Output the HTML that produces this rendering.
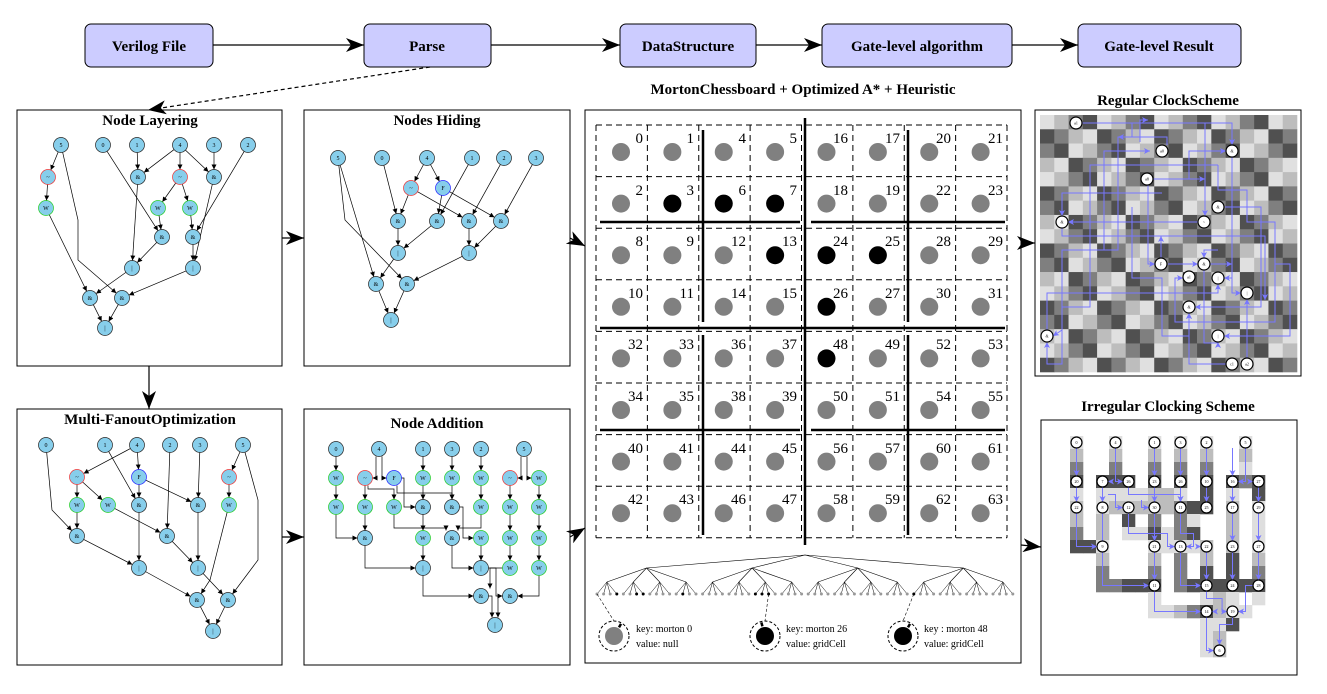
<!DOCTYPE html>
<html><head><meta charset="utf-8"><style>
html,body{margin:0;padding:0;background:#fff}
svg{display:block}
.t{font-family:"Liberation Serif",serif;font-weight:bold;font-size:15px;text-anchor:middle}
.bx{fill:#ccccff;stroke:#000;stroke-width:1}
.n circle{fill:#87ceeb;stroke:#222;stroke-width:.7}
.n.r circle{stroke:#e33}.n.f circle{stroke:#22f}.n.w circle{stroke:#2c2}
.n text{font-family:"Liberation Serif",serif;font-size:6px;text-anchor:middle}
.num{font-family:"Liberation Serif",serif;font-size:15px;text-anchor:end}
.k{font-family:"Liberation Serif",serif;font-size:10px}
.c circle{fill:#fff;stroke:#000;stroke-width:1.2}
.c text{font-family:"Liberation Serif",serif;font-size:4px;text-anchor:middle}
</style></head><body>
<svg id="s" width="1327" height="694" viewBox="0 0 1327 694" xmlns="http://www.w3.org/2000/svg">
<defs>
<marker id="big" markerUnits="userSpaceOnUse" markerWidth="20" markerHeight="14" refX="18" refY="7" orient="auto"><path d="M0,0 L18,7 L0,14 L5,7 z" fill="#000"/></marker>
<marker id="sm" markerUnits="userSpaceOnUse" markerWidth="6" markerHeight="6" refX="5" refY="2.5" orient="auto"><path d="M0,0 L5,2.5 L0,5 z" fill="#000"/></marker>
<marker id="bl" markerUnits="userSpaceOnUse" markerWidth="7" markerHeight="7" refX="6" refY="3" orient="auto"><path d="M0,0 L6,3 L0,6 L1.5,3 z" fill="#7777ff"/></marker>
</defs>
<g id="bg"></g>
<!-- top boxes -->
<rect class="bx" x="85" y="24" width="128" height="43" rx="6"/>
<rect class="bx" x="364" y="24" width="127" height="43" rx="6"/>
<rect class="bx" x="620" y="24" width="136" height="43" rx="6"/>
<rect class="bx" x="822" y="24" width="190" height="43" rx="6"/>
<rect class="bx" x="1078" y="24" width="163" height="43" rx="6"/>
<text class="t" x="149" y="51">Verilog File</text>
<text class="t" x="427" y="51">Parse</text>
<text class="t" x="688" y="51">DataStructure</text>
<text class="t" x="917" y="51">Gate-level algorithm</text>
<text class="t" x="1159" y="51">Gate-level Result</text>
<g stroke="#000" stroke-width="1.2" fill="none">
<line x1="213" y1="45" x2="364" y2="45" marker-end="url(#big)"/>
<line x1="491" y1="45" x2="620" y2="45" marker-end="url(#big)"/>
<line x1="756" y1="45" x2="822" y2="45" marker-end="url(#big)"/>
<line x1="1012" y1="45" x2="1078" y2="45" marker-end="url(#big)"/>
<line x1="430" y1="67" x2="148" y2="110" stroke-dasharray="4,3" marker-end="url(#big)"/>
<line x1="149" y1="366" x2="149" y2="409" marker-end="url(#big)"/>
<line x1="282" y1="238" x2="304" y2="238" marker-end="url(#big)"/>
<line x1="570" y1="238" x2="585" y2="246" marker-end="url(#big)"/>
<line x1="282" y1="537" x2="304" y2="537" marker-end="url(#big)"/>
<line x1="570" y1="537" x2="585" y2="528" marker-end="url(#big)"/>
<line x1="1021" y1="243" x2="1035" y2="243" marker-end="url(#big)"/>
<line x1="1021" y1="545" x2="1041" y2="547" marker-end="url(#big)"/>
</g>
<!-- panels -->
<g fill="none" stroke="#000" stroke-width="1">
<rect x="17" y="110" width="265" height="256"/>
<rect x="304" y="110" width="266" height="256"/>
<rect x="17" y="409" width="265" height="256"/>
<rect x="304" y="409" width="266" height="256"/>
<rect x="585" y="110" width="436" height="553"/>
<rect x="1035" y="110" width="266" height="266"/>
<rect x="1041" y="420" width="256" height="255"/>
</g>
<text class="t" x="150" y="125">Node Layering</text>
<text class="t" x="437" y="125">Nodes Hiding</text>
<text class="t" x="150" y="424">Multi-FanoutOptimization</text>
<text class="t" x="437" y="428">Node Addition</text>
<text class="t" x="803" y="94">MortonChessboard + Optimized A* + Heuristic</text>
<text class="t" x="1168" y="105">Regular ClockScheme</text>
<text class="t" x="1168" y="411">Irregular Clocking Scheme</text>
<g id="edges"></g>
<!-- Node Layering -->
<g class="n" transform="translate(61,145)"><circle r="7.5"/><text y="2">5</text></g>
<g class="n" transform="translate(103,145)"><circle r="7.5"/><text y="2">0</text></g>
<g class="n" transform="translate(137,145)"><circle r="7.5"/><text y="2">1</text></g>
<g class="n" transform="translate(180,145)"><circle r="7.5"/><text y="2">4</text></g>
<g class="n" transform="translate(214,145)"><circle r="7.5"/><text y="2">3</text></g>
<g class="n" transform="translate(248,145)"><circle r="7.5"/><text y="2">2</text></g>
<g class="n r" transform="translate(48,177)"><circle r="7.5"/><text y="2">~</text></g>
<g class="n" transform="translate(138,177)"><circle r="7.5"/><text y="2">&amp;</text></g>
<g class="n r" transform="translate(180,177)"><circle r="7.5"/><text y="2">~</text></g>
<g class="n" transform="translate(214,177)"><circle r="7.5"/><text y="2">&amp;</text></g>
<g class="n w" transform="translate(46,208)"><circle r="7.5"/><text y="2">W</text></g>
<g class="n w" transform="translate(158,208)"><circle r="7.5"/><text y="2">W</text></g>
<g class="n w" transform="translate(190,208)"><circle r="7.5"/><text y="2">W</text></g>
<g class="n" transform="translate(162,237)"><circle r="7.5"/><text y="2">&amp;</text></g>
<g class="n" transform="translate(193,237)"><circle r="7.5"/><text y="2">&amp;</text></g>
<g class="n" transform="translate(132,268)"><circle r="7.5"/><text y="2">|</text></g>
<g class="n" transform="translate(193,268)"><circle r="7.5"/><text y="2">|</text></g>
<g class="n" transform="translate(90,298)"><circle r="7.5"/><text y="2">&amp;</text></g>
<g class="n" transform="translate(122,298)"><circle r="7.5"/><text y="2">&amp;</text></g>
<g class="n" transform="translate(105,328)"><circle r="7.5"/><text y="2">|</text></g>
<!-- Nodes Hiding -->
<g class="n" transform="translate(338,158)"><circle r="7.5"/><text y="2">5</text></g>
<g class="n" transform="translate(382,158)"><circle r="7.5"/><text y="2">0</text></g>
<g class="n" transform="translate(427,158)"><circle r="7.5"/><text y="2">4</text></g>
<g class="n" transform="translate(472,158)"><circle r="7.5"/><text y="2">1</text></g>
<g class="n" transform="translate(504,158)"><circle r="7.5"/><text y="2">2</text></g>
<g class="n" transform="translate(536,158)"><circle r="7.5"/><text y="2">3</text></g>
<g class="n r" transform="translate(411,188)"><circle r="7.5"/><text y="2">~</text></g>
<g class="n f" transform="translate(443,188)"><circle r="7.5"/><text y="2">F</text></g>
<g class="n" transform="translate(398,221)"><circle r="7.5"/><text y="2">&amp;</text></g>
<g class="n" transform="translate(437,221)"><circle r="7.5"/><text y="2">&amp;</text></g>
<g class="n" transform="translate(469,221)"><circle r="7.5"/><text y="2">&amp;</text></g>
<g class="n" transform="translate(501,221)"><circle r="7.5"/><text y="2">&amp;</text></g>
<g class="n" transform="translate(398,253)"><circle r="7.5"/><text y="2">|</text></g>
<g class="n" transform="translate(469,253)"><circle r="7.5"/><text y="2">|</text></g>
<g class="n" transform="translate(376,284)"><circle r="7.5"/><text y="2">&amp;</text></g>
<g class="n" transform="translate(407,284)"><circle r="7.5"/><text y="2">&amp;</text></g>
<g class="n" transform="translate(391,320)"><circle r="7.5"/><text y="2">|</text></g>
<!-- Multi-Fanout -->
<g class="n" transform="translate(46,445)"><circle r="7.5"/><text y="2">0</text></g>
<g class="n" transform="translate(105,445)"><circle r="7.5"/><text y="2">1</text></g>
<g class="n" transform="translate(137,445)"><circle r="7.5"/><text y="2">4</text></g>
<g class="n" transform="translate(170,445)"><circle r="7.5"/><text y="2">2</text></g>
<g class="n" transform="translate(200,445)"><circle r="7.5"/><text y="2">3</text></g>
<g class="n" transform="translate(243,445)"><circle r="7.5"/><text y="2">5</text></g>
<g class="n r" transform="translate(77,477)"><circle r="7.5"/><text y="2">~</text></g>
<g class="n f" transform="translate(139,477)"><circle r="7.5"/><text y="2">F</text></g>
<g class="n r" transform="translate(229,477)"><circle r="7.5"/><text y="2">~</text></g>
<g class="n w" transform="translate(77,505)"><circle r="7.5"/><text y="2">W</text></g>
<g class="n w" transform="translate(108,505)"><circle r="7.5"/><text y="2">W</text></g>
<g class="n" transform="translate(139,505)"><circle r="7.5"/><text y="2">&amp;</text></g>
<g class="n" transform="translate(198,505)"><circle r="7.5"/><text y="2">&amp;</text></g>
<g class="n w" transform="translate(229,505)"><circle r="7.5"/><text y="2">W</text></g>
<g class="n" transform="translate(77,536)"><circle r="7.5"/><text y="2">&amp;</text></g>
<g class="n" transform="translate(167,536)"><circle r="7.5"/><text y="2">&amp;</text></g>
<g class="n" transform="translate(139,568)"><circle r="7.5"/><text y="2">|</text></g>
<g class="n" transform="translate(198,568)"><circle r="7.5"/><text y="2">|</text></g>
<g class="n" transform="translate(197,600)"><circle r="7.5"/><text y="2">&amp;</text></g>
<g class="n" transform="translate(228,600)"><circle r="7.5"/><text y="2">&amp;</text></g>
<g class="n" transform="translate(213,631)"><circle r="7.5"/><text y="2">|</text></g>
<!-- Node Addition -->
<g class="n" transform="translate(336,449)"><circle r="7.5"/><text y="2">0</text></g>
<g class="n" transform="translate(379,449)"><circle r="7.5"/><text y="2">4</text></g>
<g class="n" transform="translate(423,449)"><circle r="7.5"/><text y="2">1</text></g>
<g class="n" transform="translate(452,449)"><circle r="7.5"/><text y="2">3</text></g>
<g class="n" transform="translate(481,449)"><circle r="7.5"/><text y="2">2</text></g>
<g class="n" transform="translate(524,449)"><circle r="7.5"/><text y="2">5</text></g>
<g class="n w" transform="translate(336,478)"><circle r="7.5"/><text y="2">W</text></g>
<g class="n r" transform="translate(365,478)"><circle r="7.5"/><text y="2">~</text></g>
<g class="n f" transform="translate(394,478)"><circle r="7.5"/><text y="2">F</text></g>
<g class="n w" transform="translate(423,478)"><circle r="7.5"/><text y="2">W</text></g>
<g class="n w" transform="translate(452,478)"><circle r="7.5"/><text y="2">W</text></g>
<g class="n w" transform="translate(481,478)"><circle r="7.5"/><text y="2">W</text></g>
<g class="n r" transform="translate(510,478)"><circle r="7.5"/><text y="2">~</text></g>
<g class="n w" transform="translate(539,478)"><circle r="7.5"/><text y="2">W</text></g>
<g class="n w" transform="translate(336,507)"><circle r="7.5"/><text y="2">W</text></g>
<g class="n w" transform="translate(365,507)"><circle r="7.5"/><text y="2">W</text></g>
<g class="n w" transform="translate(394,507)"><circle r="7.5"/><text y="2">W</text></g>
<g class="n" transform="translate(423,507)"><circle r="7.5"/><text y="2">&amp;</text></g>
<g class="n" transform="translate(452,507)"><circle r="7.5"/><text y="2">&amp;</text></g>
<g class="n w" transform="translate(481,507)"><circle r="7.5"/><text y="2">W</text></g>
<g class="n w" transform="translate(510,507)"><circle r="7.5"/><text y="2">W</text></g>
<g class="n w" transform="translate(539,507)"><circle r="7.5"/><text y="2">W</text></g>
<g class="n" transform="translate(365,538)"><circle r="7.5"/><text y="2">&amp;</text></g>
<g class="n w" transform="translate(423,538)"><circle r="7.5"/><text y="2">W</text></g>
<g class="n" transform="translate(452,538)"><circle r="7.5"/><text y="2">&amp;</text></g>
<g class="n w" transform="translate(481,538)"><circle r="7.5"/><text y="2">W</text></g>
<g class="n w" transform="translate(510,538)"><circle r="7.5"/><text y="2">W</text></g>
<g class="n w" transform="translate(539,538)"><circle r="7.5"/><text y="2">W</text></g>
<g class="n" transform="translate(423,568)"><circle r="7.5"/><text y="2">|</text></g>
<g class="n" transform="translate(481,568)"><circle r="7.5"/><text y="2">|</text></g>
<g class="n w" transform="translate(510,568)"><circle r="7.5"/><text y="2">W</text></g>
<g class="n w" transform="translate(539,568)"><circle r="7.5"/><text y="2">W</text></g>
<g class="n" transform="translate(481,596)"><circle r="7.5"/><text y="2">&amp;</text></g>
<g class="n" transform="translate(510,596)"><circle r="7.5"/><text y="2">&amp;</text></g>
<g class="n" transform="translate(495,625)"><circle r="7.5"/><text y="2">|</text></g>
<!-- chessboard numbers -->
<g class="num">
<text x="643" y="143">0</text><text x="694" y="143">1</text><text x="746" y="143">4</text><text x="797" y="143">5</text><text x="848" y="143">16</text><text x="900" y="143">17</text><text x="951" y="143">20</text><text x="1003" y="143">21</text>
<text x="643" y="195">2</text><text x="694" y="195">3</text><text x="746" y="195">6</text><text x="797" y="195">7</text><text x="848" y="195">18</text><text x="900" y="195">19</text><text x="951" y="195">22</text><text x="1003" y="195">23</text>
<text x="643" y="246">8</text><text x="694" y="246">9</text><text x="746" y="246">12</text><text x="797" y="246">13</text><text x="848" y="246">24</text><text x="900" y="246">25</text><text x="951" y="246">28</text><text x="1003" y="246">29</text>
<text x="643" y="298">10</text><text x="694" y="298">11</text><text x="746" y="298">14</text><text x="797" y="298">15</text><text x="848" y="298">26</text><text x="900" y="298">27</text><text x="951" y="298">30</text><text x="1003" y="298">31</text>
<text x="643" y="349">32</text><text x="694" y="349">33</text><text x="746" y="349">36</text><text x="797" y="349">37</text><text x="848" y="349">48</text><text x="900" y="349">49</text><text x="951" y="349">52</text><text x="1003" y="349">53</text>
<text x="643" y="401">34</text><text x="694" y="401">35</text><text x="746" y="401">38</text><text x="797" y="401">39</text><text x="848" y="401">50</text><text x="900" y="401">51</text><text x="951" y="401">54</text><text x="1003" y="401">55</text>
<text x="643" y="453">40</text><text x="694" y="453">41</text><text x="746" y="453">44</text><text x="797" y="453">45</text><text x="848" y="453">56</text><text x="900" y="453">57</text><text x="951" y="453">60</text><text x="1003" y="453">61</text>
<text x="643" y="504">42</text><text x="694" y="504">43</text><text x="746" y="504">46</text><text x="797" y="504">47</text><text x="848" y="504">58</text><text x="900" y="504">59</text><text x="951" y="504">62</text><text x="1003" y="504">63</text>
</g>
<g id="keys"></g>
<text class="k" x="636" y="632">key: morton 0</text><text class="k" x="636" y="647">value: null</text>
<text class="k" x="786" y="632">key: morton 26</text><text class="k" x="786" y="647">value: gridCell</text>
<text class="k" x="924" y="632">key : morton 48</text><text class="k" x="924" y="647">value: gridCell</text>
<g id="clk"></g>
<!-- regular clock nodes -->
<g class="c">
<g transform="translate(1076,123)"><circle r="6"/><text y="1.5">a1</text></g>
<g transform="translate(1162,151)"><circle r="6"/><text y="1.5">a0</text></g>
<g transform="translate(1232,151)"><circle r="6"/><text y="1.5">&amp;</text></g>
<g transform="translate(1147,179)"><circle r="6"/><text y="1.5">a8</text></g>
<g transform="translate(1218,207)"><circle r="6"/><text y="1.5">&amp;</text></g>
<g transform="translate(1204,222)"><circle r="6"/><text y="1.5">~</text></g>
<g transform="translate(1062,222)"><circle r="6"/><text y="1.5">&amp;</text></g>
<g transform="translate(1161,264)"><circle r="6"/><text y="1.5">F</text></g>
<g transform="translate(1204,264)"><circle r="6"/><text y="1.5">&amp;</text></g>
<g transform="translate(1189,277)"><circle r="6"/><text y="1.5">a1</text></g>
<g transform="translate(1218,278)"><circle r="6"/><text y="1.5">|</text></g>
<g transform="translate(1247,293)"><circle r="6"/><text y="1.5">|</text></g>
<g transform="translate(1189,307)"><circle r="6"/><text y="1.5">&amp;</text></g>
<g transform="translate(1047,336)"><circle r="6"/><text y="1.5">&amp;</text></g>
<g transform="translate(1218,336)"><circle r="6"/><text y="1.5">|</text></g>
<g transform="translate(1232,364)"><circle r="6"/><text y="1.5">c1</text></g>
<g transform="translate(1247,364)"><circle r="6"/><text y="1.5">a2</text></g>
</g>
<!-- irregular nodes -->
<g class="c">
<g transform="translate(1076.5,442.5)"><circle r="5.5"/><text y="1.5">0</text></g>
<g transform="translate(1115.5,442.5)"><circle r="5.5"/><text y="1.5">4</text></g>
<g transform="translate(1154.5,442.5)"><circle r="5.5"/><text y="1.5">1</text></g>
<g transform="translate(1180.5,442.5)"><circle r="5.5"/><text y="1.5">3</text></g>
<g transform="translate(1206.5,442.5)"><circle r="5.5"/><text y="1.5">2</text></g>
<g transform="translate(1245.5,442.5)"><circle r="5.5"/><text y="1.5">5</text></g>
<g transform="translate(1076.5,481.5)"><circle r="5.5"/><text y="1.5">20</text></g>
<g transform="translate(1102.5,481.5)"><circle r="5.5"/><text y="1.5">7</text></g>
<g transform="translate(1128.5,481.5)"><circle r="5.5"/><text y="1.5">26</text></g>
<g transform="translate(1154.5,481.5)"><circle r="5.5"/><text y="1.5">23</text></g>
<g transform="translate(1180.5,481.5)"><circle r="5.5"/><text y="1.5">26</text></g>
<g transform="translate(1206.5,481.5)"><circle r="5.5"/><text y="1.5">10</text></g>
<g transform="translate(1232.5,481.5)"><circle r="5.5"/><text y="1.5">16</text></g>
<g transform="translate(1258.5,481.5)"><circle r="5.5"/><text y="1.5">27</text></g>
<g transform="translate(1076.5,507.5)"><circle r="5.5"/><text y="1.5">22</text></g>
<g transform="translate(1102.5,507.5)"><circle r="5.5"/><text y="1.5">8</text></g>
<g transform="translate(1128.5,507.5)"><circle r="5.5"/><text y="1.5">12</text></g>
<g transform="translate(1154.5,507.5)"><circle r="5.5"/><text y="1.5">30</text></g>
<g transform="translate(1180.5,507.5)"><circle r="5.5"/><text y="1.5">11</text></g>
<g transform="translate(1206.5,507.5)"><circle r="5.5"/><text y="1.5">25</text></g>
<g transform="translate(1232.5,507.5)"><circle r="5.5"/><text y="1.5">17</text></g>
<g transform="translate(1258.5,507.5)"><circle r="5.5"/><text y="1.5">29</text></g>
<g transform="translate(1102.5,546.5)"><circle r="5.5"/><text y="1.5">9</text></g>
<g transform="translate(1154.5,546.5)"><circle r="5.5"/><text y="1.5">21</text></g>
<g transform="translate(1180.5,546.5)"><circle r="5.5"/><text y="1.5">13</text></g>
<g transform="translate(1206.5,546.5)"><circle r="5.5"/><text y="1.5">22</text></g>
<g transform="translate(1232.5,546.5)"><circle r="5.5"/><text y="1.5">23</text></g>
<g transform="translate(1258.5,546.5)"><circle r="5.5"/><text y="1.5">27</text></g>
<g transform="translate(1154.5,585.5)"><circle r="5.5"/><text y="1.5">11</text></g>
<g transform="translate(1206.5,585.5)"><circle r="5.5"/><text y="1.5">15</text></g>
<g transform="translate(1232.5,585.5)"><circle r="5.5"/><text y="1.5">24</text></g>
<g transform="translate(1258.5,585.5)"><circle r="5.5"/><text y="1.5">28</text></g>
<g transform="translate(1206.5,611.5)"><circle r="5.5"/><text y="1.5">14</text></g>
<g transform="translate(1232.5,611.5)"><circle r="5.5"/><text y="1.5">19</text></g>
<g transform="translate(1219.5,650.5)"><circle r="5.5"/><text y="1.5">6</text></g>
</g>
</svg>
<script>
(function(){
var NS="http://www.w3.org/2000/svg";
function el(p,t,a){var e=document.createElementNS(NS,t);for(var k in a)e.setAttribute(k,a[k]);p.appendChild(e);return e;}
var bg=document.getElementById("bg"),E=document.getElementById("edges"),K=document.getElementById("keys"),C=document.getElementById("clk");
function shorten(p,r){var n=p.length,x1=p[n-4],y1=p[n-3],x2=p[n-2],y2=p[n-1],dx=x2-x1,dy=y2-y1,L=Math.sqrt(dx*dx+dy*dy);if(L>r){p[n-2]=x2-dx/L*r;p[n-1]=y2-dy/L*r;}
 // start
 var a=p[0],b=p[1],c=p[2],d=p[3];dx=c-a;dy=d-b;L=Math.sqrt(dx*dx+dy*dy);if(L>r){p[0]=a+dx/L*r;p[1]=b+dy/L*r;}return p;}
function pl(g,p,st,mk,w,r,dash){if(r)p=shorten(p.slice(),r);var s="";for(var i=0;i<p.length;i+=2)s+=p[i]+","+p[i+1]+" ";var a={points:s,fill:"none",stroke:st,"stroke-width":w};if(mk)a["marker-end"]="url(#"+mk+")";if(dash)a["stroke-dasharray"]=dash;el(g,"polyline",a);}
var graphs=[
// node layering
[61,145,48,177],[48,177,46,208],[46,208,90,298],[61,145,78,220,78,260,122,298],[103,145,162,237],[137,145,138,177],[180,145,138,177],[180,145,180,177],[180,145,214,177],[214,145,214,177],[180,177,158,208],[180,177,190,208],[158,208,162,237],[190,208,193,237],[248,145,193,237],[138,177,132,268],[162,237,132,268],[214,177,193,268],[193,237,193,268],[132,268,90,298],[193,268,122,298],[90,298,105,328],[122,298,105,328],
// hiding
[338,158,376,284],[338,158,345,220,407,284],[382,158,398,221],[427,158,411,188],[427,158,443,188],[411,188,398,221],[411,188,469,221],[443,188,437,221],[443,188,501,221],[472,158,437,221],[504,158,469,221],[536,158,501,221],[398,221,398,253],[437,221,398,253],[469,221,469,253],[501,221,469,253],[398,253,376,284],[469,253,407,284],[376,284,391,320],[407,284,391,320],
// multi
[46,445,52,510,77,536],[137,445,77,477],[137,445,139,477],[105,445,139,505],[77,477,77,505],[77,477,108,505],[139,477,139,505],[139,477,198,505],[170,445,167,536],[200,445,198,505],[243,445,229,477],[243,445,258,500,258,560,228,600],[229,477,229,505],[77,505,77,536],[108,505,167,536],[139,505,139,568],[77,536,139,568],[167,536,198,568],[198,505,198,568],[229,505,210,580,197,600],[139,568,197,600],[198,568,228,600],[197,600,213,631],[228,600,213,631],
// node addition
[336,449,336,478],[336,478,336,507],[336,507,336,538,365,538],[376,449,376,478,365,478],[382,449,382,478,394,478],[365,478,365,507],[368,478,368,489,394,489,394,507],[394,478,404,478,404,507,423,507],[397,478,397,493,452,493,452,507],[423,449,423,478],[423,478,423,507],[452,449,452,478],[452,478,452,507],[481,449,481,478],[481,478,481,507],[521,449,521,478,510,478],[527,449,527,478,539,478],[510,478,510,507],[539,478,539,507],[365,507,365,538],[394,507,394,528,446,528,446,538],[481,507,481,528,458,528,458,538],[423,507,423,538],[452,507,463,507,463,538,481,538],[510,507,510,538],[539,507,539,538],[365,538,365,568,423,568],[423,538,423,568],[452,538,452,568,481,568],[481,538,481,568],[510,538,510,568],[539,538,539,568],[423,568,423,596,481,596],[510,568,490,568,490,596],[481,568,496,568,496,596,510,596],[539,568,539,596,510,596],[481,596,492,596,492,625],[510,596,498,596,498,625]
];
graphs.forEach(function(p){pl(E,p,"#000","sm",0.7,7.5);});
// chessboard
var cw=51.375,ch=51.6,x0=596,y0=125;
for(var i=0;i<=8;i++){el(bg,"line",{x1:x0+i*cw,y1:y0,x2:x0+i*cw,y2:y0+8*ch,stroke:"#000","stroke-width":1,"stroke-dasharray":"6,4"});el(bg,"line",{x1:x0,y1:y0+i*ch,x2:x0+8*cw,y2:y0+i*ch,stroke:"#000","stroke-width":1,"stroke-dasharray":"6,4"});}
var blk=[3,6,7,13,24,25,26,48];
function mort(r,c){var n=0;for(var b=0;b<3;b++){n|=((c>>b)&1)<<(2*b);n|=((r>>b)&1)<<(2*b+1);}return n;}
for(var r=0;r<8;r++)for(var c=0;c<8;c++){var m=mort(r,c);el(bg,"circle",{cx:x0+c*cw+25,cy:y0+r*ch+27,r:9,fill:blk.indexOf(m)>=0?"#000":"#808080"});}
var th=[[805,118,805,545],[600,328,1005,328],[600,222,800,222],[811,222,1005,222],[600,430,800,430],[811,430,1005,430],[703,130,703,322],[703,335,703,535],[908,130,908,322],[908,335,908,535]];
th.forEach(function(l){el(bg,"line",{x1:l[0],y1:l[1],x2:l[2],y2:l[3],stroke:"#000","stroke-width":2.5});});
// tree
for(var a=0;a<4;a++){var x1=597+(a*16+7.5)*6.6;el(bg,"line",{x1:805,y1:555,x2:x1,y2:568,stroke:"#000","stroke-width":.6});
 for(var b=0;b<4;b++){var x2=597+(a*16+b*4+1.5)*6.6;el(bg,"line",{x1:x1,y1:568,x2:x2,y2:582,stroke:"#000","stroke-width":.6});
  for(var d=0;d<4;d++){var idx=a*16+b*4+d,x3=597+idx*6.6;el(bg,"line",{x1:x2,y1:582,x2:x3,y2:594,stroke:"#000","stroke-width":.5});el(bg,"circle",{cx:x3,cy:594,r:1.5,fill:blk.indexOf(idx)>=0?"#000":"#999"});}}}
[[597,614,"#808080",20],[597+26*6.6,765,"#000",-15],[597+48*6.6,903,"#000",20]].forEach(function(k){
 el(K,"line",{x1:k[0],y1:594,x2:k[1]+(k[0]<k[1]?-6:6)*0,y2:621,stroke:"#000","stroke-width":.6,"stroke-dasharray":"3,2"});
 el(K,"circle",{cx:k[1],cy:636,r:15,fill:"none",stroke:"#000","stroke-width":1,"stroke-dasharray":"3,2"});
 el(K,"circle",{cx:k[1],cy:636,r:9,fill:k[2]});
 var ang=(k[3]>0?-60:-105)*Math.PI/180;el(K,"line",{x1:k[1]+10*Math.cos(ang),y1:636+10*Math.sin(ang),x2:k[1]+14*Math.cos(ang),y2:636+14*Math.sin(ang),stroke:"#000","stroke-width":2.5});});
// regular clock
var P=["#e0e0e0","#bdbdbd","#7f7f7f","#505050"],cs=257/18;
for(var r=0;r<18;r++)for(var c=0;c<18;c++){var v,q=r%4;if(q==0)v=c%4;else if(q==2)v=(c+2)%4;else if(q==1)v=(3-c%4+4)%4;else v=(1-c%4+8)%4;
 el(C,"rect",{x:1040+c*cs,y:115+r*cs,width:cs+.3,height:cs+.3,fill:P[v]});}
var reg=[[1082,123,1232,123,1232,145],[1132,123,1132,137,1118,137,1118,250,1062,250,1062,330,1053,336],[1205,123,1205,216],[1167,145,1167,137,1118,137],[1104,250,1104,151,1150,151],[1153,179,1189,179,1189,151,1226,151],[1189,179,1205,179],[1218,165,1090,165,1090,307,1062,307,1062,364,1047,364,1047,342],[1148,185,1148,264,1155,264],[1162,193,1062,193,1062,216],[1198,222,1068,222],[1062,228,1062,236,1265,236,1265,300],[1225,207,1261,207,1261,307,1195,307],[1218,165,1218,190,1247,190,1247,222,1275,222,1275,322,1175,322,1175,278,1183,278],[1168,264,1198,264],[1161,258,1161,236],[1132,207,1132,278,1162,278,1162,336,1189,336,1189,313],[1226,364,1189,364,1189,313],[1247,358,1247,299],[1275,264,1290,264,1290,336,1224,336],[1047,330,1047,293,1218,293,1218,284],[1218,250,1204,250,1204,258],[1232,157,1232,278,1224,278],[1232,278,1232,293,1241,293],[1204,270,1204,343,1218,343,1218,342],[1210,264,1232,264],[1140,110+32,1140,120,1148,120]];
reg.forEach(function(p){pl(C,p,"#7777ff","bl",1,0);});
// irregular
var G=["l..l..l.l.l..l..","m..m..m.m.m..m..","g..g..g.g.g..l..","d.ddd.d.d.d.dgd.","l.llllmml.d.l.d.","m.lmmmmmgdd.m.l.","m.m.d.g.gl..m.l.","g.m.lldlgd..m.l.","ddl...llllm.m.l.","..m...m.g.m.d.m.","..g...g.g.d.d.g.","..ggddd.gdddddd.","......l...lml.l.","......llmgdmll..","..........lld...","..........lm....","..........lm...."];
var M={l:"#dedede",m:"#bdbdbd",g:"#7f7f7f",d:"#505050"};
G.forEach(function(row,r){for(var c=0;c<16;c++){var ch2=row[c];if(M[ch2])el(C,"rect",{x:1070+c*13,y:436+r*13,width:13.3,height:13.3,fill:M[ch2]});}});
function X(c){return 1076.5+c*13;}function Y(r){return 442.5+r*13;}
var irr=[[0,0,0,3],[0,3,0,5],[0,5,0,8,2,8],[3,0,3,3,4,3],[3,3,2,3],[2,3,2,5],[2,5,2,11,6,11],[2,4,3,4,3,5,4,5],[4,3,4,4,8,4,8,5],[5,4,5,5,6,5],[6,0,6,3],[6,3,6,5],[6,5,6,8],[6,8,6,11],[6,11,6,13,10,13],[4,5,4,7,7,7,7,8,8,8],[8,0,8,3],[8,3,8,5],[8,5,8,7,9,7,9,8,8,8],[9,8,10,8],[8,8,8,11,10,11],[10,0,10,3],[10,3,10,5],[10,8,10,11],[10,11,10,12,11.2,12,11.2,13,12,13],[11.2,13,10,13],[12,0,12,3],[12,3,12,5],[12,5,12,8],[12,8,12,11],[14,11,13,11,13,13,12,13],[12,13,12,14,11,14,11,16],[10,13,10,16,11,16],[13,0,13,3,12,3],[13,3,14,3],[14,3,14,5],[14,5,14,8],[14,8,14,11]];
irr.forEach(function(p){var q=[];for(var i=0;i<p.length;i+=2){q.push(X(p[i]),Y(p[i+1]));}pl(C,q,"#7777ff","bl",1,5.5);});
})();
</script>
</body></html>
